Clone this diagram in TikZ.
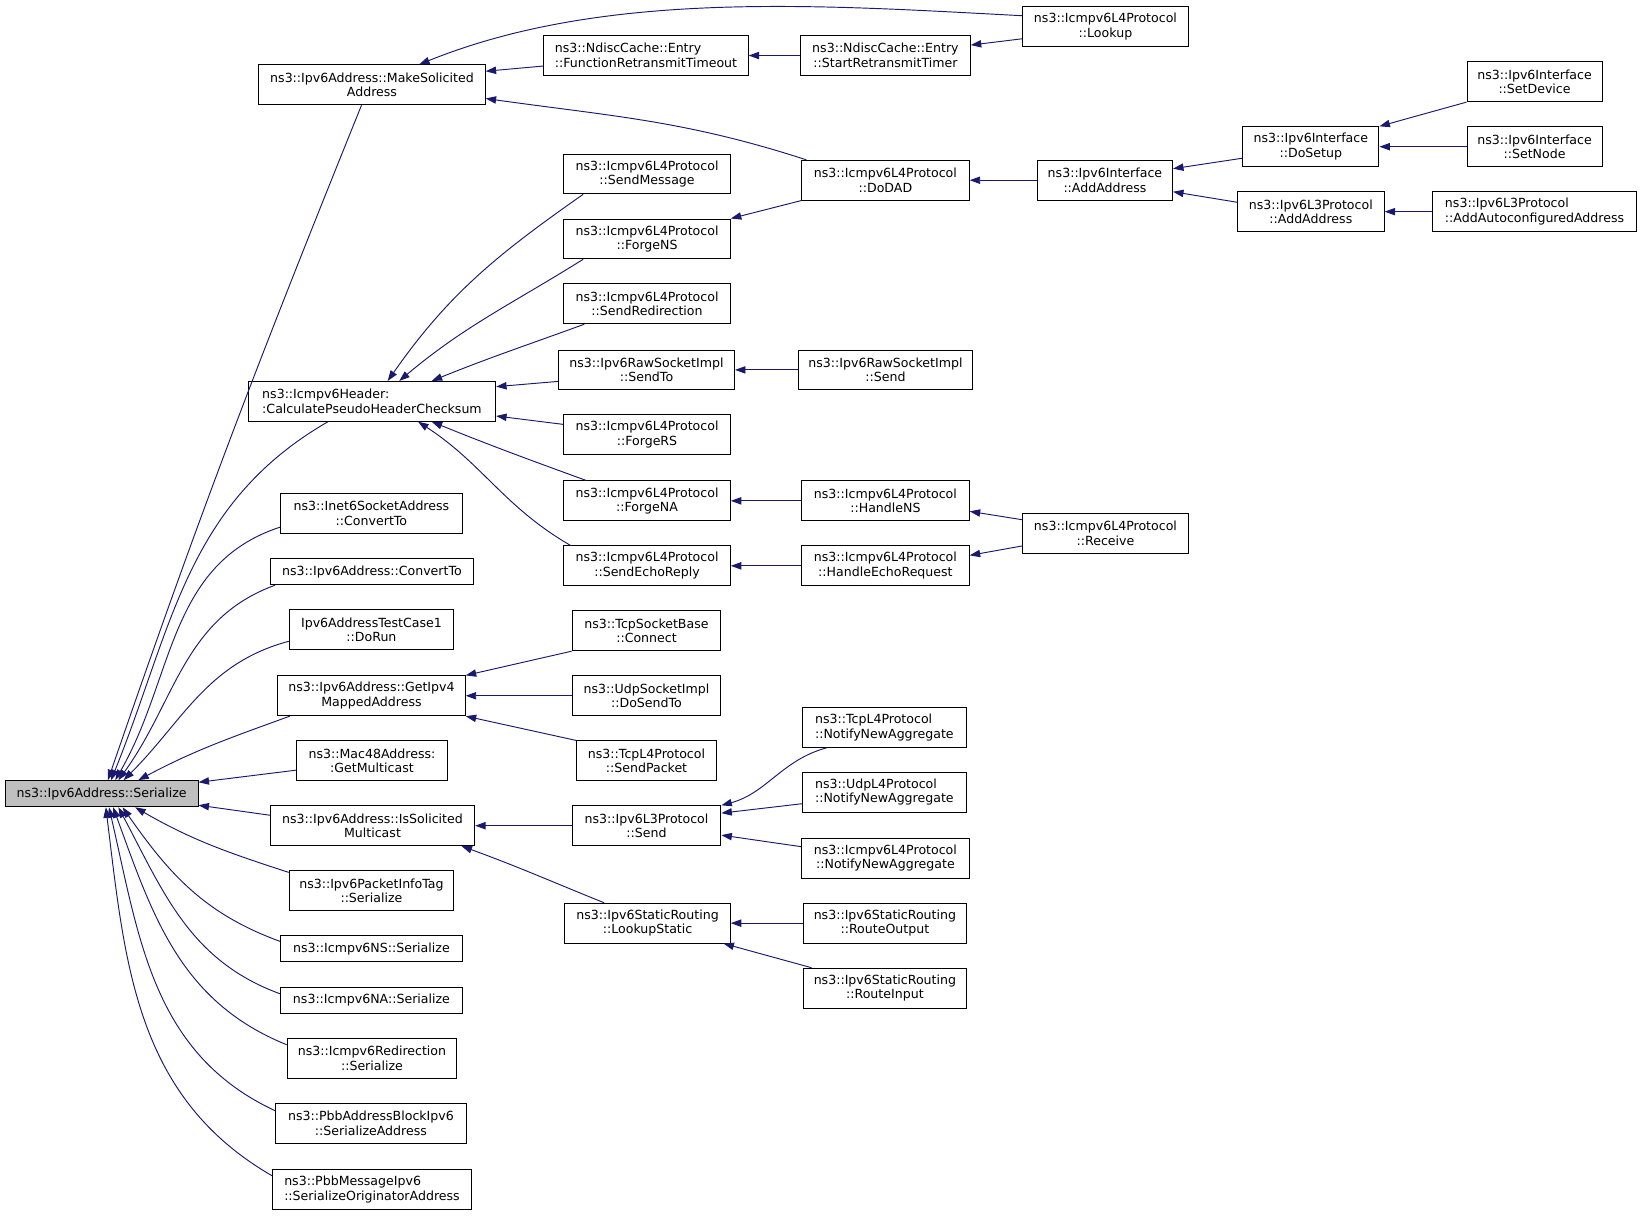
\documentclass[tikz,border=0pt]{standalone}
\usepackage{fontspec}
\setmainfont{DejaVu Sans}
\usetikzlibrary{arrows.meta,calc}
\definecolor{edgec}{RGB}{25,25,112}
\definecolor{rootfill}{RGB}{191,191,191}
\tikzset{
  box/.style={draw=black, line width=0.9pt, fill=white, inner sep=0pt, align=center,
              font=\fontsize{12}{14}\selectfont, minimum height=38pt},
  lbox/.style={box, align=left},
  onel/.style={minimum height=25pt},
  root/.style={box, fill=rootfill},
  edge/.style={draw=edgec, line width=0.9pt, {Triangle[length=10pt,width=7pt]}-},
}
\begin{document}
\begin{tikzpicture}[x=1pt,y=-1pt]
\useasboundingbox[fill=white] (0,0) rectangle (1568,1160);
% column 1
\node[root, onel, minimum width=184pt] (ser) at (97,757.5) {ns3::Ipv6Address::Serialize};
% column 2
\node[box, minimum width=216pt] (mks) at (355,81) {ns3::Ipv6Address::MakeSolicited\\Address};
\node[lbox, minimum width=236pt] (cps) at (355,383) {ns3::Icmpv6Header:\\:CalculatePseudoHeaderChecksum};
\node[box, minimum width=173pt] (i6c) at (354.5,490) {ns3::Inet6SocketAddress\\::ConvertTo};
\node[box, onel, minimum width=194pt] (a6c) at (355,545.5) {ns3::Ipv6Address::ConvertTo};
\node[box, minimum width=157pt] (tc1) at (354.5,601) {Ipv6AddressTestCase1\\::DoRun};
\node[box, minimum width=179pt] (gv4) at (354.5,664) {ns3::Ipv6Address::GetIpv4\\MappedAddress};
\node[box, minimum width=144pt] (m48) at (355,726) {ns3::Mac48Address:\\:GetMulticast};
\node[box, minimum width=195pt] (ism) at (355.5,788) {ns3::Ipv6Address::IsSolicited\\Multicast};
\node[box, minimum width=157pt] (pit) at (354.5,850) {ns3::Ipv6PacketInfoTag\\::Serialize};
\node[box, onel, minimum width=173pt] (nss) at (354.5,905.5) {ns3::Icmpv6NS::Serialize};
\node[box, onel, minimum width=173pt] (nas) at (354.5,954.5) {ns3::Icmpv6NA::Serialize};
\node[box, minimum width=162pt] (rds) at (355,1010) {ns3::Icmpv6Redirection\\::Serialize};
\node[box, minimum width=182pt] (pab) at (354,1072) {ns3::PbbAddressBlockIpv6\\::SerializeAddress};
\node[lbox, minimum width=190pt] (pmo) at (355,1135) {ns3::PbbMessageIpv6\\::SerializeOriginatorAddress};
% column 3
\node[lbox, minimum width=195pt] (frt) at (616.5,53) {ns3::NdiscCache::Entry\\::FunctionRetransmitTimeout};
\node[box, minimum width=159pt] (smg) at (617.5,166) {ns3::Icmpv6L4Protocol\\::SendMessage};
\node[box, minimum width=159pt] (fns) at (617.5,228) {ns3::Icmpv6L4Protocol\\::ForgeNS};
\node[box, minimum width=159pt] (srd) at (617.5,290) {ns3::Icmpv6L4Protocol\\::SendRedirection};
\node[box, minimum width=168pt] (rst) at (617,353) {ns3::Ipv6RawSocketImpl\\::SendTo};
\node[box, minimum width=159pt] (frs) at (617.5,415) {ns3::Icmpv6L4Protocol\\::ForgeRS};
\node[box, minimum width=159pt] (fna) at (617.5,478) {ns3::Icmpv6L4Protocol\\::ForgeNA};
\node[box, minimum width=159pt] (ser2) at (617.5,540) {ns3::Icmpv6L4Protocol\\::SendEchoReply};
\node[box, minimum width=142pt] (tcn) at (617,602) {ns3::TcpSocketBase\\::Connect};
\node[box, minimum width=142pt] (udt) at (617,664) {ns3::UdpSocketImpl\\::DoSendTo};
\node[box, minimum width=134pt] (tsp) at (617,726) {ns3::TcpL4Protocol\\::SendPacket};
\node[box, minimum width=142pt] (l3s) at (617,788) {ns3::Ipv6L3Protocol\\::Send};
\node[box, minimum width=158pt] (lks) at (618,881) {ns3::Ipv6StaticRouting\\::LookupStatic};
% column 4
\node[box, minimum width=162pt] (srt) at (845,53) {ns3::NdiscCache::Entry\\::StartRetransmitTimer};
\node[box, minimum width=160pt] (dad) at (845,172) {ns3::Icmpv6L4Protocol\\::DoDAD};
\node[box, minimum width=166pt] (rsd) at (845,353) {ns3::Ipv6RawSocketImpl\\::Send};
\node[box, minimum width=160pt] (hns) at (845,478) {ns3::Icmpv6L4Protocol\\::HandleNS};
\node[box, minimum width=160pt] (her) at (845,540) {ns3::Icmpv6L4Protocol\\::HandleEchoRequest};
\node[lbox, minimum width=156pt] (tna) at (844,694) {ns3::TcpL4Protocol\\::NotifyNewAggregate};
\node[lbox, minimum width=156pt] (una) at (844,756) {ns3::UdpL4Protocol\\::NotifyNewAggregate};
\node[box, minimum width=160pt] (ina) at (845,819) {ns3::Icmpv6L4Protocol\\::NotifyNewAggregate};
\node[box, minimum width=155pt] (rou) at (844.5,881) {ns3::Ipv6StaticRouting\\::RouteOutput};
\node[box, minimum width=155pt] (rin) at (844.5,943) {ns3::Ipv6StaticRouting\\::RouteInput};
% column 5
\node[box, minimum width=158pt] (lku) at (1055,25) {ns3::Icmpv6L4Protocol\\::Lookup};
\node[box, minimum width=129pt] (iaa) at (1054.5,172) {ns3::Ipv6Interface\\::AddAddress};
\node[box, minimum width=158pt] (rcv) at (1055,509) {ns3::Icmpv6L4Protocol\\::Receive};
% column 6
\node[box, minimum width=130pt] (dsu) at (1251,140) {ns3::Ipv6Interface\\::DoSetup};
\node[box, minimum width=140pt] (l3a) at (1251,202) {ns3::Ipv6L3Protocol\\::AddAddress};
% column 7
\node[box, minimum width=129pt] (sdv) at (1464.5,78) {ns3::Ipv6Interface\\::SetDevice};
\node[box, minimum width=129pt] (snd) at (1464.5,140) {ns3::Ipv6Interface\\::SetNode};
\node[lbox, minimum width=195pt] (aca) at (1464.5,202) {ns3::Ipv6L3Protocol\\::AddAutoconfiguredAddress};

% ---- edges into Serialize (top fan)
\draw[edge] ([xshift=6pt]ser.north) to[out=71,in=-112] ([xshift=-10pt]mks.south);
\draw[edge] ([xshift=9pt]ser.north) to[out=68,in=210] ([xshift=-42pt]cps.south);
\draw[edge] ([xshift=13pt]ser.north) to[out=60,in=198] ([yshift=-13pt]i6c.west);
\draw[edge] ([xshift=16pt]ser.north) to[out=54,in=200] ([xshift=5pt]a6c.south west);
\draw[edge] ([xshift=21pt]ser.north) to[out=45,in=195] ([yshift=-11pt]tc1.west);
\draw[edge] ([xshift=35pt]ser.north) to[out=28,in=200] ([xshift=12pt]gv4.south west);
\draw[edge] ([yshift=-2pt]ser.north east) -- ([yshift=-9pt]m48.west);
\draw[edge] ([yshift=2pt]ser.south east) -- ([yshift=10pt]ism.west);
% ---- bottom fan
\draw[edge] ([xshift=32pt]ser.south) to[out=-30,in=162] ([yshift=-2pt]pit.north west);
\draw[edge] ([xshift=20pt]ser.south) to[out=-55,in=160] ([yshift=7pt]nss.west);
\draw[edge] ([xshift=16pt]ser.south) to[out=-62,in=160] ([yshift=6pt]nas.west);
\draw[edge] ([xshift=11pt]ser.south) to[out=-70,in=158] ([yshift=13pt]rds.west);
\draw[edge] ([xshift=7pt]ser.south) to[out=-77,in=155] ([yshift=12pt]pab.west);
\draw[edge] ([xshift=4pt]ser.south) to[out=-83,in=150] ([yshift=13pt]pmo.west);

% ---- MakeSolicited
\draw[edge] ([xshift=45pt]mks.north) to[out=22,in=177,looseness=0.85] ([yshift=10pt]lku.west);
\draw[edge] ([yshift=13pt]mks.east) -- ([yshift=-10pt]frt.west);
\draw[edge] ([yshift=-13pt]mks.east) to[out=-8,in=162] ([xshift=5pt]dad.north west);
\draw[edge] (frt.east) -- (srt.west);
\draw[edge] ([yshift=10pt]srt.east) -- ([yshift=-12pt]lku.west);
% ---- DoDAD
\draw[edge] (fns.north east) -- (dad.south west);
\draw[edge] (dad.east) -- (iaa.west);
\draw[edge] ([yshift=11pt]iaa.east) -- ([yshift=-11pt]dsu.west);
\draw[edge] ([yshift=-11pt]iaa.east) -- ([yshift=9pt]l3a.west);
\draw[edge] (dsu.north east) -- (sdv.south west);
\draw[edge] (dsu.east) -- (snd.west);
\draw[edge] (l3a.east) -- (aca.west);
% ---- Calculate
\draw[edge] ([xshift=15pt]cps.north) to[out=55,in=215] ([xshift=19pt]smg.south west);
\draw[edge] ([xshift=26pt]cps.north) to[out=40,in=212] ([xshift=19pt]fns.south west);
\draw[edge] ([xshift=57pt]cps.north) to[out=22,in=200] ([xshift=20pt]srd.south west);
\draw[edge] ([yshift=14pt]cps.east) -- ([yshift=-11pt]rst.west);
\draw[edge] ([yshift=-14pt]cps.east) -- ([yshift=10pt]frs.west);
\draw[edge] ([xshift=57pt]cps.south) to[out=-22,in=160] ([xshift=22pt]fna.north west);
\draw[edge] ([xshift=44pt]cps.south) to[out=-33,in=150] ([xshift=7pt]ser2.north west);
\draw[edge] (rst.east) -- (rsd.west);
\draw[edge] (fna.east) -- (hns.west);
\draw[edge] (ser2.east) -- (her.west);
\draw[edge] ([yshift=-10pt]hns.east) -- ([yshift=13pt]rcv.west);
\draw[edge] ([yshift=10pt]her.east) -- ([yshift=-12pt]rcv.west);
% ---- GetIpv4MappedAddress
\draw[edge] (gv4.north east) -- (tcn.south west);
\draw[edge] (gv4.east) -- (udt.west);
\draw[edge] (gv4.south east) -- (tsp.north west);
% ---- IsSolicitedMulticast
\draw[edge] (ism.east) -- (l3s.west);
\draw[edge] ([xshift=-13pt]ism.south east) to[out=-20,in=158] ([xshift=38pt]lks.north west);
\draw[edge] (l3s.north east) to[out=15,in=195] ([xshift=24pt]tna.south west);
\draw[edge] ([yshift=12pt]l3s.east) -- ([yshift=-11pt]una.west);
\draw[edge] ([yshift=-9pt]l3s.east) -- ([yshift=11pt]ina.west);
\draw[edge] (lks.east) -- (rou.west);
\draw[edge] ([xshift=-7pt]lks.south east) -- ([xshift=8pt]rin.north west);
\end{tikzpicture}
\end{document}
